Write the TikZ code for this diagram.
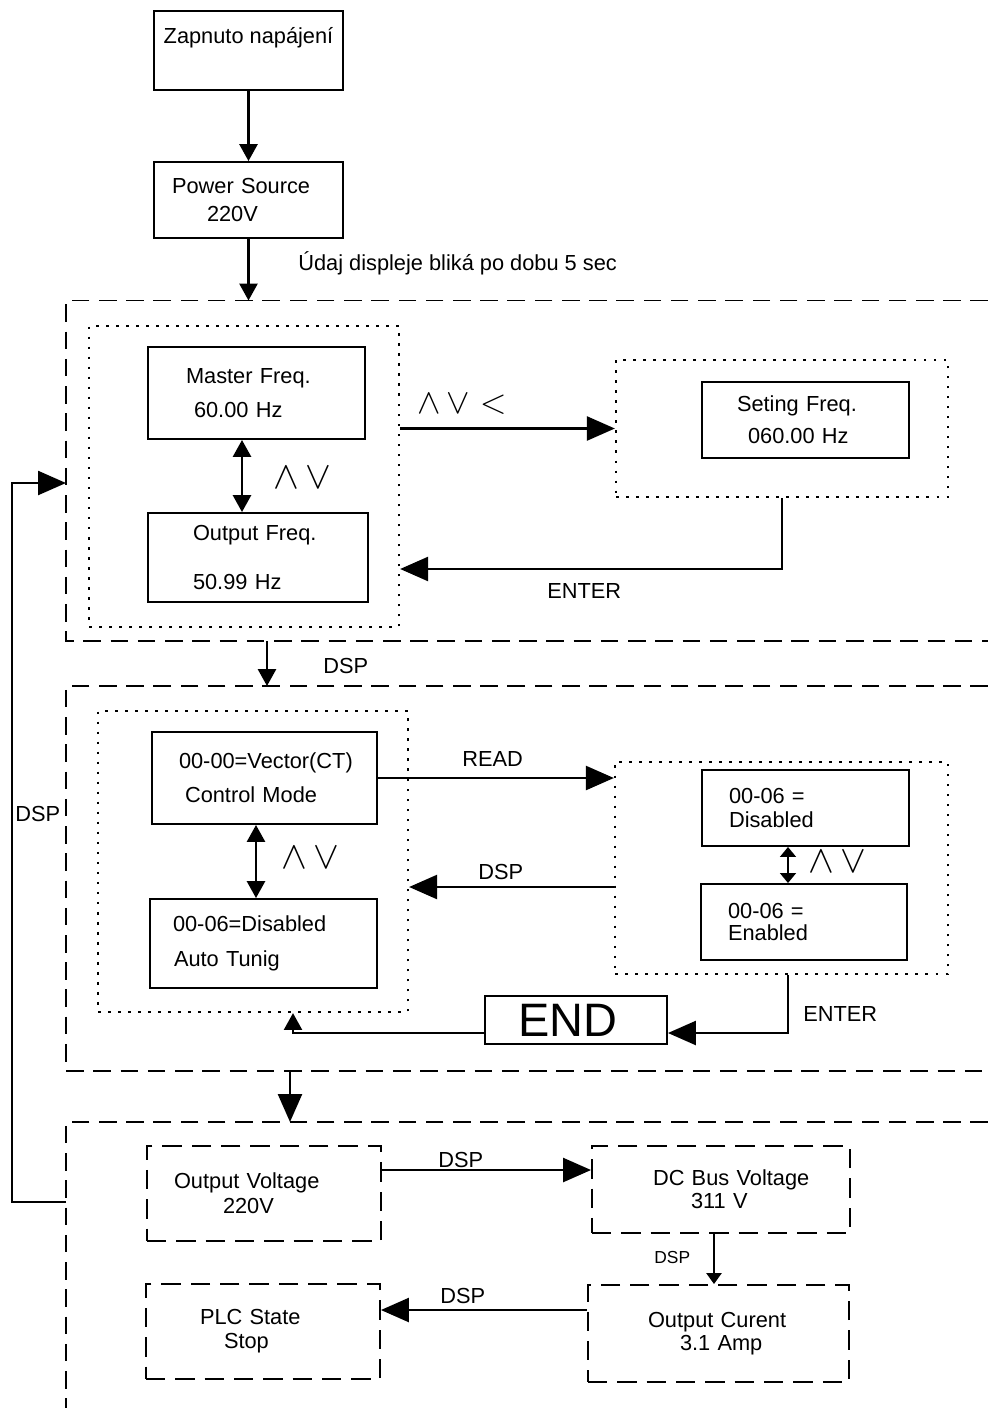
\RequirePackage{fix-cm}
\documentclass[tikz,border=0pt]{standalone}
\usepackage{fontspec}
\setmainfont{Liberation Sans}
\usetikzlibrary{arrows.meta,positioning}
\newlength{\pxl}\setlength{\pxl}{0.02cm}
\newcommand{\indt}[1]{\hspace*{#1\pxl}}
\newcommand{\boxfont}{\fontsize{12.4}{13.6}\selectfont}
\begin{document}
\begin{tikzpicture}[x=0.02cm,y=-0.02cm,
        box/.style={draw,line width=1.1pt,inner sep=0pt,align=left,font=\boxfont},
        dbox/.style={box,dash pattern=on 11pt off 5.7pt},
        grp/.style={draw,line width=1.3pt,dash pattern=on 1.5pt off 4.2pt,inner sep=0pt},
        zone/.style={line width=1.1pt,dash pattern=on 10pt off 5.5pt},
        lbl/.style={inner sep=0pt,anchor=base west,font=\boxfont},
        sym/.style={inner sep=0pt,anchor=west,font=\fontsize{22}{22}\selectfont},
        arr/.style={-{Triangle[length=15.9pt,width=13.6pt]},line width=1.5pt},
        arrm/.style={-{Triangle[length=9.6pt,width=10.2pt]},line width=1.5pt},
        arrs/.style={-{Triangle[length=6.2pt,width=8.5pt]},line width=1.3pt},
        darr/.style={arrows={Triangle[length=9.6pt,width=10.2pt]-Triangle[length=9.6pt,width=10.2pt]},line width=1.5pt},
        darrs/.style={arrows={Triangle[length=5.7pt,width=9pt]-Triangle[length=5.7pt,width=9pt]},line width=1.3pt}]
        \useasboundingbox (0,0) rectangle (988,1418);
        \node[box,anchor=north,minimum width=3.78cm,text height=0.66cm,text depth=0.92cm](zap) at (248.5,10){Zapnuto napájení};
        \node[box,text width=3.78cm,minimum height=1.52cm](pwr) at (248.5,200){\indt{18}Power Source\\[2.8pt]\indt{53}220V};
        \node[lbl](note) at (298,270){Údaj displeje bliká po dobu 5 sec};
        \draw[zone](988,300.5) -| (66,641) -- (988,641);
        \draw[zone](988,686) -| (66,1071) -- (988,1071);
        \draw[zone](988,1122) -| (66,1408);
        \coordinate(zAn) at (248.5,300.5); \coordinate(zAs) at (267,641); \coordinate(zAw) at (66,483);
        \coordinate(zBn) at (267,686); \coordinate(zBs) at (290,1071);
        \coordinate(zCn) at (290,1122); \coordinate(zCw) at (66,1202);
        \node[grp,minimum width=6.2cm,minimum height=6.02cm](grpA) at (244,476.5){};
        \node[grp,minimum width=6.64cm,minimum height=2.74cm](grpB) at (782,428.5){};
        \node[grp,minimum width=6.2cm,minimum height=6.02cm](grpC) at (253,861.5){};
        \node[grp,minimum width=6.66cm,minimum height=4.24cm](grpD) at (781.5,868){};
        \node[box,text width=4.34cm,minimum height=1.84cm](mf) at (256.5,393){\indt{38}Master Freq.\\[6.2pt]\indt{46}60.00 Hz};
        \node[box,text width=4.4cm,minimum height=1.78cm](of) at (258,557.5){\indt{45}Output Freq.\\[14.2pt]\indt{45}50.99 Hz};
        \node[box,text width=4.14cm,minimum height=1.52cm](sf) at (805.5,420){\indt{35}Seting Freq.\\[4.5pt]\indt{46}060.00 Hz};
        \node[box,text width=4.5cm,minimum height=1.84cm](vec) at (264.5,778){\indt{27}00-00=Vector(CT)\\[5.7pt]\indt{33}Control Mode};
        \node[box,text width=4.54cm,minimum height=1.78cm](tun) at (263.5,943.5){\indt{23}00-06=Disabled\\[6.2pt]\indt{24}Auto Tunig};
        \node[box,text width=4.14cm,minimum height=1.52cm](dis) at (805.5,808){\indt{27}00-06 =\\[0.6pt]\indt{27}Disabled};
        \node[box,text width=4.12cm,minimum height=1.52cm](en) at (804,922){\indt{27}00-06 =\\[-0.6pt]\indt{27}Enabled};
        \node[box,text width=3.64cm,minimum height=0.96cm,font=\fontsize{26.7}{28}\selectfont](endb) at (576,1020){\indt{33}END};
        \node[dbox,text width=4.68cm,minimum height=1.9cm](ov) at (264,1193.5){\indt{27}Output Voltage\\[0.6pt]\indt{76}220V};
        \node[dbox,text width=5.16cm,minimum height=1.74cm](dc) at (721,1189.5){\indt{61}DC Bus Voltage\\[-0.6pt]\indt{99}311 V};
        \node[dbox,text width=5.22cm,minimum height=1.94cm](oc) at (718.5,1333.5){\indt{60}Output Curent\\[-0.6pt]\indt{92}3.1 Amp};
        \node[dbox,text width=4.68cm,minimum height=1.9cm](plc) at (263,1331.5){\indt{54}PLC State\\\indt{78}Stop};
        \node[sym,font=\fontsize{20}{20}\selectfont](k1) at (417,404){${\wedge}\,{\vee}\;{<}$};
        \node[lbl](ent1) at (547,598){ENTER};
        \node[lbl](dsp1) at (323,673){DSP};
        \node[sym](k2) at (273,478){${\wedge}\,{\vee}$};
        \node[sym](k3) at (281,857.5){${\wedge}\,{\vee}$};
        \node[lbl](rd) at (462,766){READ};
        \node[lbl](dsp2) at (478,879){DSP};
        \node[sym](k4) at (808,862){${\wedge}\,{\vee}$};
        \node[lbl](ent2) at (803,1021){ENTER};
        \node[lbl](dsp3) at (15,821){DSP};
        \node[lbl](dsp4) at (438,1167){DSP};
        \node[lbl,font=\fontsize{9.9}{11}\selectfont](dsp5) at (654,1263){DSP};
        \node[lbl](dsp6) at (440,1303){DSP};
        \draw[arrm](zap)--(pwr);\draw[arrm](pwr)--(zAn);\draw[arrm](zAs)--(zBn);\draw[arr](zBs)--(zCn);
        \draw[darr]([xshift=-0.29cm]mf.south)--([xshift=-0.29cm]mf.south |- of.north);
        \draw[arr](grpA.east |- grpB.west)--(grpB.west);
        \draw[arr](grpB.south) |- ([yshift=-1.85cm]grpA.east);
        \draw[darr]([xshift=-0.17cm]vec.south)--([xshift=-0.17cm]vec.south |- tun.north);
        \draw[arr](vec.east)--(vec.east -| grpD.west);
        \draw[arr]([yshift=-0.38cm]grpD.west)--([yshift=-0.38cm]grpD.west -| grpC.east);
        \draw[darrs]([xshift=-0.35cm]dis.south)--([xshift=-0.35cm]dis.south |- en.north);
        \draw[arr]([xshift=0.13cm]grpD.south) |- ([yshift=-0.26cm]endb.east);
        \draw[arrm]([yshift=-0.26cm]endb.west) -| ([xshift=0.8cm]grpC.south);
        \draw[arr]([yshift=0.47cm]ov.east)--([yshift=0.47cm]ov.east -| dc.west);
        \draw[arrs]([xshift=-0.14cm]dc.south)--([xshift=-0.14cm]dc.south |- oc.north);
        \draw[arr]([yshift=0.47cm]oc.west)--([yshift=0.47cm]oc.west -| plc.east);
        \draw[arr](zCw)-- ++(-54,0) |- (zAw);
      \end{tikzpicture}
\end{document}
